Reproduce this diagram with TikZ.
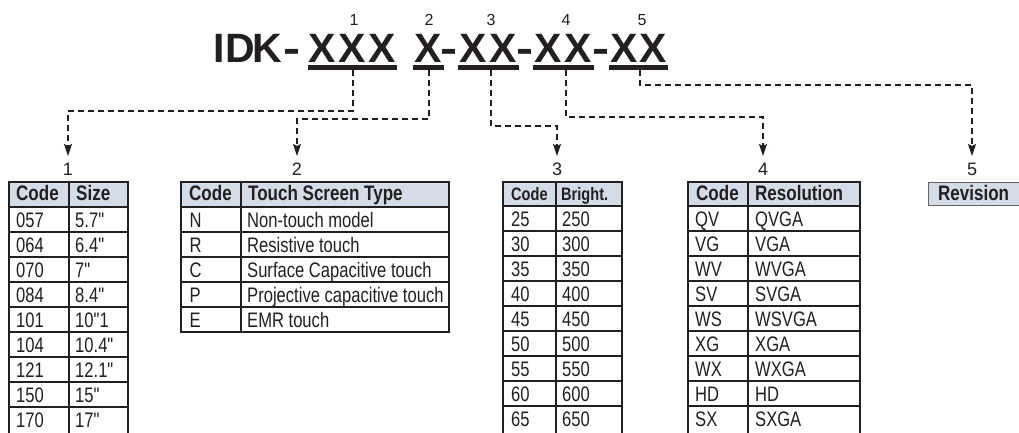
\documentclass[tikz,border=0pt]{standalone}
\usepackage{graphicx}
\usepackage{fontspec}
\setmainfont{Liberation Sans}
\newfontfamily\narrowfont[FakeStretch=0.79]{Liberation Sans}
\newfontfamily\hdrfont[FakeStretch=0.81]{Liberation Sans}
\usetikzlibrary{arrows.meta}
\definecolor{ink}{RGB}{35,31,32}
\definecolor{hdrfill}{RGB}{212,220,232}
\newcommand{\widedash}{\scalebox{1.25}[1]{-}}
\begin{document}
\begin{tikzpicture}[x=1pt,y=-1pt,
  conn/.style={draw=ink,line width=1.4pt,dash pattern=on 6pt off 4pt,-{Stealth[length=12pt,width=8pt,inset=2pt]}},
  cell/.style={anchor=base west,inner sep=0pt,text=ink,font=\narrowfont\fontsize{21}{21}\selectfont},
  hcell/.style={anchor=base west,inner sep=0pt,text=ink,font=\hdrfont\bfseries\fontsize{21}{21}\selectfont},
  hsmall/.style={anchor=base west,inner sep=0pt,text=ink,font=\hdrfont\bfseries\fontsize{18}{18}\selectfont},
  tglyph/.style={anchor=base,inner sep=0pt,text=ink,font=\bfseries\fontsize{41}{41}\selectfont},
  topnum/.style={anchor=base,inner sep=0pt,text=ink,font=\fontsize{16}{16}\selectfont},
  lblnum/.style={anchor=base,inner sep=0pt,text=ink,font=\fontsize{18}{18}\selectfont},
  uline/.style={draw=ink,line width=5pt},
  outer/.style={draw=ink,line width=2.2pt},
  inner/.style={draw=ink,line width=1.4pt},
  hdr/.style={fill=hdrfill}]
\useasboundingbox (0,0) rectangle (1019,432);

% ---- title ----
\node[tglyph] (gI) at (219,62) {I};
\node[tglyph] (gD) at (240,62) {D};
\node[tglyph] (gK) at (267.5,62) {K};
\node[tglyph] (gH0) at (292,62) {\widedash};
\node[tglyph] (gA1) at (322,62) {X};
\node[tglyph] (gA2) at (352,62) {X};
\node[tglyph] (gA3) at (382,62) {X};
\node[tglyph] (gB1) at (428.5,62) {X};
\node[tglyph] (gH1) at (449,62) {\widedash};
\node[tglyph] (gC1) at (473.5,62) {X};
\node[tglyph] (gC2) at (503.5,62) {X};
\node[tglyph] (gH2) at (525.5,62) {\widedash};
\node[tglyph] (gD1) at (548.5,62) {X};
\node[tglyph] (gD2) at (578.5,62) {X};
\node[tglyph] (gH3) at (601,62) {\widedash};
\node[tglyph] (gE1) at (624,62) {X};
\node[tglyph] (gE2) at (653.5,62) {X};

\draw[uline] (308,67.5) -- (397,67.5);
\draw[uline] (413,67.5) -- (444,67.5);
\draw[uline] (458,67.5) -- (519,67.5);
\draw[uline] (533,67.5) -- (594,67.5);
\draw[uline] (609,67.5) -- (668,67.5);

\node[topnum] (n1) at (354,25) {1};
\node[topnum] (n2) at (429,25) {2};
\node[topnum] (n3) at (491,25) {3};
\node[topnum] (n4) at (566,25) {4};
\node[topnum] (n5) at (642,25) {5};

% ---- connectors ----
\coordinate (u1) at (353,70);
\coordinate (u2) at (429,70);
\coordinate (u3) at (491,70);
\coordinate (u4) at (566,70);
\coordinate (u5) at (640,70);
\coordinate (b1) at (68,111);
\coordinate (b2) at (297,119);
\coordinate (b3) at (557,126);
\coordinate (b4) at (763,117);
\coordinate (b5) at (972,85);
\node[lblnum] (L1) at (68,175) {1};
\node[lblnum] (L2) at (297,175) {2};
\node[lblnum] (L3) at (557,175) {3};
\node[lblnum] (L4) at (763,175) {4};
\node[lblnum] (L5) at (972,175) {5};
\coordinate (t1) at (68,156);
\coordinate (t2) at (297,156);
\coordinate (t3) at (557,156);
\coordinate (t4) at (763,156);
\coordinate (t5) at (972,156);
\draw[conn] (u1) |- (b1) -- (t1);
\draw[conn] (u2) |- (b2) -- (t2);
\draw[conn] (u3) |- (b3) -- (t3);
\draw[conn] (u4) |- (b4) -- (t4);
\draw[conn] (u5) |- (b5) -- (t5);

% ---- table 1 ----
\fill[hdr] (9,182) rectangle (128,207);
\foreach \k in {0,...,8} \draw[inner] (9,{207+25*\k}) -- (128,{207+25*\k});
\draw[inner] (69,182) -- (69,440);
\draw[outer] (9,182) rectangle (128,440);
\node[hcell] (h1a) at (16,200.5) {Code};
\node[hcell] (h1b) at (76,200.5) {Size};
\foreach \c/\v [count=\i] in {057/5.7",064/6.4",070/7",084/8.4",101/10"1,104/10.4",121/12.1",150/15",170/17"} {
  \node[cell] (r1a\i) at (16,{207+25*\i-5}) {\c};
  \node[cell] (r1b\i) at (75,{207+25*\i-5}) {\v};
}

% ---- table 2 ----
\fill[hdr] (181,182) rectangle (449,207);
\foreach \k in {0,...,4} \draw[inner] (181,{207+25*\k}) -- (449,{207+25*\k});
\draw[inner] (241,182) -- (241,332);
\draw[outer] (181,182) rectangle (449,332);
\node[hcell] (h2a) at (189,200.5) {Code};
\node[hcell] (h2b) at (248,200.5) {Touch Screen Type};
\foreach \c/\v [count=\i] in {N/Non-touch model,R/Resistive touch,C/Surface Capacitive touch,P/Projective capacitive touch,E/EMR touch} {
  \node[cell] (r2a\i) at (189.5,{207+25*\i-5}) {\c};
  \node[cell] (r2b\i) at (247,{207+25*\i-5}) {\v};
}

% ---- table 3 ----
\fill[hdr] (503,182) rectangle (622,206);
\foreach \k in {0,...,8} \draw[inner] (503,{206+25*\k}) -- (622,{206+25*\k});
\draw[inner] (556,182) -- (556,440);
\draw[outer] (503,182) rectangle (622,440);
\node[hsmall] (h3a) at (511,200) {Code};
\node[hsmall] (h3b) at (561,200) {Bright.};
\foreach \c/\v [count=\i] in {25/250,30/300,35/350,40/400,45/450,50/500,55/550,60/600,65/650} {
  \node[cell] (r3a\i) at (511,{206+25*\i-5}) {\c};
  \node[cell] (r3b\i) at (562,{206+25*\i-5}) {\v};
}

% ---- table 4 ----
\fill[hdr] (688,182) rectangle (860,206);
\foreach \k in {0,...,8} \draw[inner] (688,{206+25*\k}) -- (860,{206+25*\k});
\draw[inner] (748,182) -- (748,440);
\draw[outer] (688,182) rectangle (860,440);
\node[hcell] (h4a) at (696,200) {Code};
\node[hcell] (h4b) at (755,200) {Resolution};
\foreach \c/\v [count=\i] in {QV/QVGA,VG/VGA,WV/WVGA,SV/SVGA,WS/WSVGA,XG/XGA,WX/WXGA,HD/HD,SX/SXGA} {
  \node[cell] (r4a\i) at (695,{206+25*\i-5}) {\c};
  \node[cell] (r4b\i) at (755,{206+25*\i-5}) {\v};
}

% ---- revision ----
\draw[hdr,draw=ink!70,line width=1pt] (928,182) rectangle (1025,205);
\node[hcell] (h5) at (938,200) {Revision};
\end{tikzpicture}
\end{document}
